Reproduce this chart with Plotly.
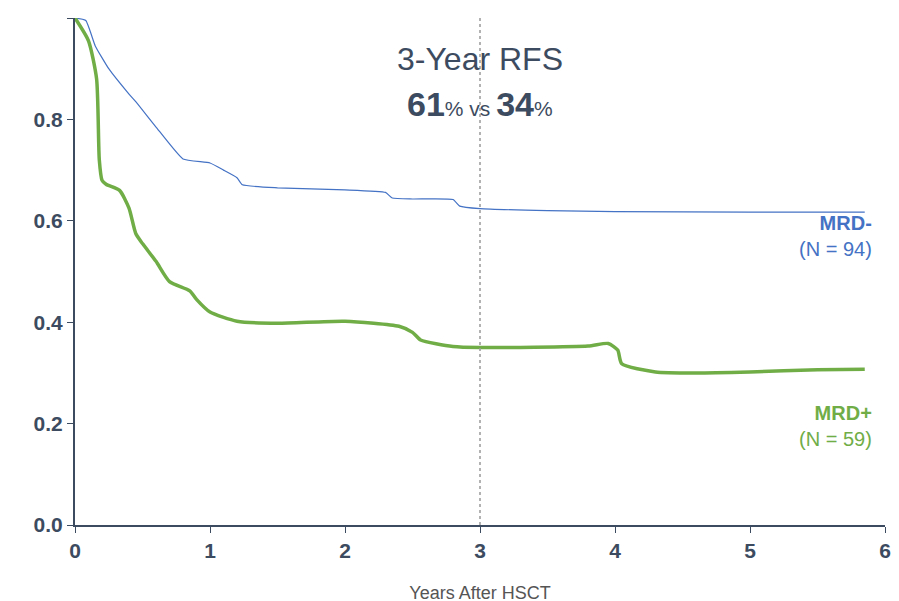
import plotly.graph_objects as go

mrd_neg_x = [0, 0.08, 0.15, 0.25, 0.4, 0.45, 0.6, 0.8, 1.0, 1.1, 1.2, 1.24, 1.5, 2.0, 2.3, 2.35, 2.5, 2.8, 2.85, 3.0, 3.5, 4.0, 5.0, 5.85]
mrd_neg_y = [1.0, 0.995, 0.945, 0.9, 0.85, 0.835, 0.785, 0.722, 0.714, 0.7, 0.685, 0.671, 0.665, 0.661, 0.656, 0.645, 0.643, 0.642, 0.629, 0.624, 0.62, 0.618, 0.617, 0.617]

mrd_pos_x = [0, 0.1, 0.16, 0.18, 0.2, 0.23, 0.33, 0.4, 0.45, 0.5, 0.6, 0.7, 0.85, 0.9, 1.0, 1.2, 1.5, 2.0, 2.4, 2.5, 2.56, 2.8, 3.0, 3.8, 3.95, 4.02, 4.05, 4.3, 4.6, 5.0, 5.5, 5.85]
mrd_pos_y = [1.0, 0.955, 0.88, 0.72, 0.68, 0.672, 0.66, 0.625, 0.575, 0.555, 0.52, 0.48, 0.462, 0.445, 0.42, 0.402, 0.398, 0.402, 0.392, 0.38, 0.365, 0.352, 0.35, 0.353, 0.358, 0.345, 0.318, 0.302, 0.3, 0.302, 0.306, 0.307]

dark = "#3d4b60"
blue = "#4472c4"
green = "#70ad47"

fig = go.Figure()
fig.add_trace(go.Scatter(x=mrd_neg_x, y=mrd_neg_y, mode="lines",
                         line=dict(color=blue, width=1.2, shape="spline", smoothing=0.4)))
fig.add_trace(go.Scatter(x=mrd_pos_x, y=mrd_pos_y, mode="lines",
                         line=dict(color=green, width=3.5, shape="spline", smoothing=0.6)))

fig.add_shape(type="line", x0=3, x1=3, y0=0, y1=1.03, yref="y",
              line=dict(color="#999999", width=1.5, dash="dot"))

fig.add_annotation(x=3, y=0.92, text="3-Year RFS", showarrow=False,
                   font=dict(size=32, color=dark, family="Liberation Sans"))
fig.add_annotation(x=3, y=0.83, showarrow=False,
                   text="<b>61</b><span style='font-size:21px'>% vs </span><b>34</b><span style='font-size:21px'>%</span>",
                   font=dict(size=34, color=dark, family="Liberation Sans"))
fig.add_annotation(x=5.92, y=0.57, xanchor="right", showarrow=False, align="right",
                   text="<b>MRD-</b><br>(N = 94)",
                   font=dict(size=20, color=blue, family="Liberation Sans"))
fig.add_annotation(x=5.92, y=0.195, xanchor="right", showarrow=False, align="right",
                   text="<b>MRD+</b><br>(N = 59)",
                   font=dict(size=20, color=green, family="Liberation Sans"))

fig.update_layout(
    width=899, height=601, showlegend=False,
    plot_bgcolor="white", paper_bgcolor="white",
    margin=dict(l=67, r=22, t=10, b=84),
    font=dict(family="Liberation Sans", color=dark),
    xaxis=dict(range=[0, 6], tickvals=[0, 1, 2, 3, 4, 5, 6],
               ticktext=["<b>%d</b>" % i for i in range(7)],
               tickfont=dict(size=21), showgrid=False, zeroline=False,
               showline=True, linecolor=dark, linewidth=2,
               ticks="outside", ticklen=6, tickcolor=dark,
               title=dict(text="Years After HSCT", font=dict(size=18, color="#555555"), standoff=25)),
    yaxis=dict(range=[0, 1.0], tickvals=[0, 0.2, 0.4, 0.6, 0.8, 1.0],
               ticktext=["<b>%.1f</b>" % v for v in [0, 0.2, 0.4, 0.6, 0.8, 1.0]],
               tickfont=dict(size=21), showgrid=False, zeroline=False,
               showline=True, linecolor=dark, linewidth=2,
               ticks="outside", ticklen=6, tickcolor=dark),
)

fig.write_html("out.html")
